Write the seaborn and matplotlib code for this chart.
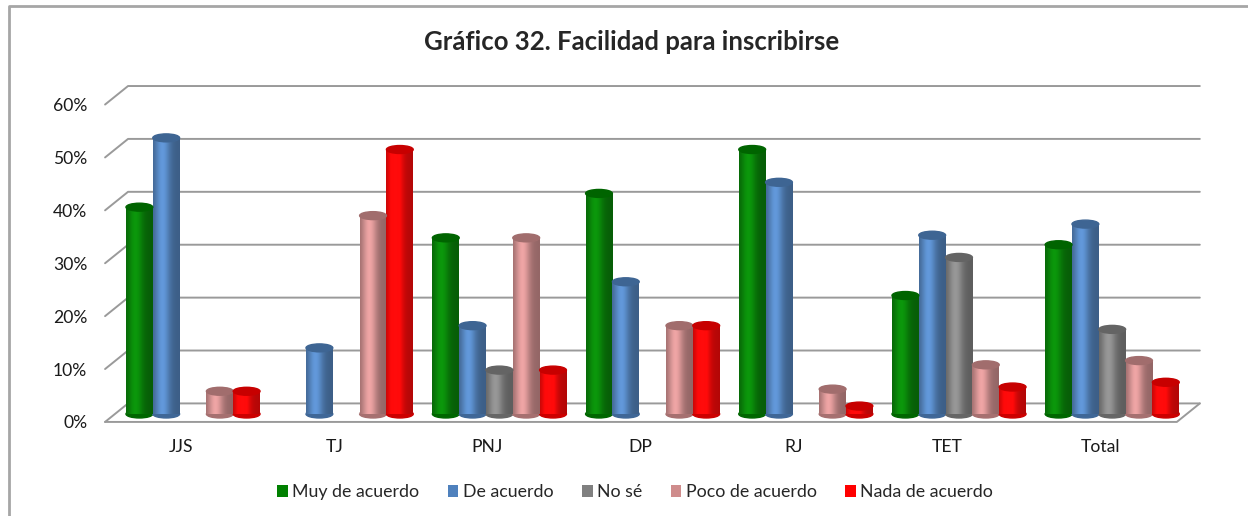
import numpy as np
import pandas as pd
import seaborn as sns
import matplotlib
matplotlib.use('Agg')
import matplotlib.pyplot as plt
import matplotlib.transforms as mtransforms
from matplotlib.patches import Ellipse, Patch
from matplotlib.lines import Line2D

# datos (porcentajes)
categorias = ['JJS', 'TJ', 'PNJ', 'DP', 'RJ', 'TET', 'Total']
respuestas = ['Muy de acuerdo', 'De acuerdo', 'No sé', 'Poco de acuerdo', 'Nada de acuerdo']
muy_de_acuerdo = [39.1, 0, 33.3, 41.7, 50.0, 22.4, 32.0]
de_acuerdo = [52.2, 12.5, 16.7, 25.0, 43.8, 33.8, 35.9]
no_se = [0, 0, 8.3, 0, 0, 29.6, 16.0]
poco_de_acuerdo = [4.3, 37.5, 33.3, 16.7, 4.7, 9.3, 10.1]
nada_de_acuerdo = [4.3, 50.0, 8.3, 16.7, 1.5, 5.1, 6.0]
colores = ['#008000', '#4F81BD', '#808080', '#CF8C8C', '#FF0000']
y_ticks = [0, 10, 20, 30, 40, 50, 60]


def main():
    series = [muy_de_acuerdo, de_acuerdo, no_se, poco_de_acuerdo, nada_de_acuerdo]
    filas = []
    for resp, valores in zip(respuestas, series):
        for cat, v in zip(categorias, valores):
            filas.append({'Grupo': cat, 'Respuesta': resp, 'Porcentaje': v})
    df = pd.DataFrame(filas)

    sns.set_style('white')
    plt.rcParams['font.family'] = ['Lato', 'DejaVu Sans']

    fig = plt.figure(figsize=(12.48, 5.16), dpi=100)
    ax = fig.add_axes([116.4 / 1248, 102 / 516, 1072.4 / 1248, 317.4 / 516])

    sns.barplot(data=df, x='Grupo', y='Porcentaje', hue='Respuesta',
                hue_order=respuestas, palette=colores, order=categorias,
                width=0.875, gap=0, saturation=1, legend=False, ax=ax,
                zorder=3)

    ax.set_xlim(-0.5, len(categorias) - 0.5)
    ax.set_ylim(0, 60)

    # aspecto "cilindro": degradado horizontal + tapas elípticas
    t = np.linspace(0, 1, 60)
    perfil = 0.68 + 0.42 * np.exp(-((t - 0.35) / 0.28) ** 2)
    for p in ax.patches:
        h = p.get_height()
        if not h or np.isnan(h):
            continue
        x0, w = p.get_x(), p.get_width()
        base = np.array(p.get_facecolor()[:3])
        grad = np.clip(base[None, :] * perfil[:, None] + 0.04 * perfil[:, None], 0, 1)
        ax.imshow(grad[None, :, :], extent=(x0, x0 + w, 0, h), aspect='auto',
                  zorder=3, interpolation='bilinear')
        p.set_visible(False)
        ax.add_patch(Ellipse((x0 + w / 2, 0), w, 1.5, color=base * 0.8, zorder=2.9,
                             clip_on=False))
        ax.add_patch(Ellipse((x0 + w / 2, h), w, 1.5, color=base * 0.78, zorder=3.1))
    ax.set_xlim(-0.5, len(categorias) - 0.5)
    ax.set_ylim(0, 60)

    # paredes en perspectiva
    gris = '#9A9A9A'
    xf, xb, xr, xfr = -0.574, -0.424, 6.572, 6.422
    for v in y_ticks:
        ax.add_line(Line2D([xf, xb, xr], [v - 1.5, v + 2.0, v + 2.0], color=gris,
                           lw=1.4, zorder=1, clip_on=False))
    ax.add_line(Line2D([xf, xfr, xr], [-1.5, -1.5, 2.0], color=gris, lw=1.4,
                       zorder=1, clip_on=False))

    for s in ax.spines.values():
        s.set_visible(False)
    ax.set_xlabel('')
    ax.set_ylabel('')
    ax.set_yticks(y_ticks)
    ax.set_yticklabels([f'{v}%' for v in y_ticks])
    ax.tick_params(axis='y', length=0, pad=21, labelsize=12.6, labelcolor='#1a1a1a')
    ax.tick_params(axis='x', length=0, pad=18, labelsize=12.6, labelcolor='#1a1a1a')
    desplaza_y = mtransforms.ScaledTranslation(0, -0.08, fig.dpi_scale_trans)
    for lab in ax.get_yticklabels():
        lab.set_transform(lab.get_transform() + desplaza_y)
    desplaza_x = mtransforms.ScaledTranslation(-0.12, 0, fig.dpi_scale_trans)
    for lab in ax.get_xticklabels():
        lab.set_transform(lab.get_transform() + desplaza_x)

    fig.text(0.506, 0.918, 'Gráfico 32. Facilidad para inscribirse',
             ha='center', va='center', fontsize=18.5, fontweight='bold')

    handles = [Patch(facecolor=c, edgecolor='none') for c in colores]
    fig.legend(handles, respuestas, loc='center', bbox_to_anchor=(0.509, 0.046),
               ncol=5, frameon=False, fontsize=12.8, handlelength=0.6,
               handleheight=0.6, handletextpad=0.25, columnspacing=1.6)

    # marco del gráfico
    fig.add_artist(Line2D([9 / 1248, 9 / 1248, 1], [0, 1 - 6 / 516, 1 - 6 / 516],
                          color='#A6A6A6', lw=2, transform=fig.transFigure))

    fig.savefig('out.png', dpi=100)


if __name__ == '__main__':
    main()
